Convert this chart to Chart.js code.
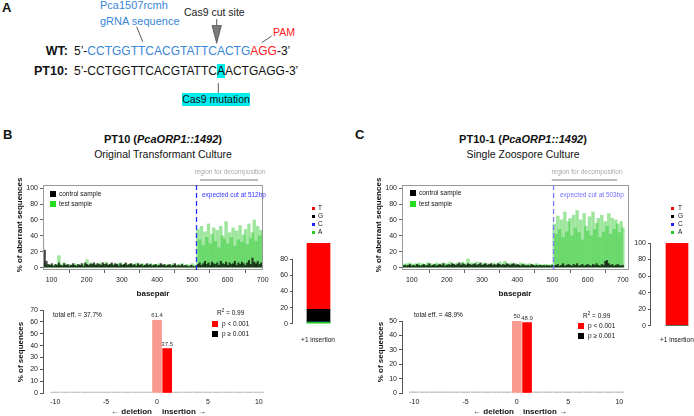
<!DOCTYPE html>
<html><head><meta charset="utf-8">
<script src="https://cdn.jsdelivr.net/npm/chart.js@4"></script>
<style>
html,body{margin:0;padding:0;width:694px;height:416px;overflow:hidden;background:#fff;font-family:"Liberation Sans",Arial,sans-serif;color:#111;}
.t{position:absolute;white-space:nowrap;line-height:1;}
canvas{position:absolute;}
.sq{position:absolute;}
.rot{position:absolute;width:140px;height:10px;line-height:10px;text-align:center;font-weight:bold;font-size:8px;transform:rotate(-90deg);white-space:nowrap;}
.s65{font-size:6.5px;}
</style></head><body>

<!-- Panel A -->
<div class="t" style="left:2px;top:1px;font-size:13px;font-weight:bold">A</div>
<div class="t" style="left:100px;top:0px;font-size:11px;color:#3a86d8">Pca1507rcmh</div>
<div class="t" style="left:100px;top:16px;font-size:11px;color:#3a86d8">gRNA sequence</div>
<div class="t" style="left:184px;top:7px;font-size:10.5px;color:#222">Cas9 cut site</div>
<div class="t" style="left:273px;top:27px;font-size:10.5px;color:#ff2020">PAM</div>
<div class="t" style="left:8px;width:60px;text-align:right;top:45px;font-size:12.5px;font-weight:bold">WT:</div>
<div class="t" style="left:74px;top:45px;font-size:12px">5’-<span style="color:#3a86d8">CCTGGTTCACGTATTCACTG</span><span style="color:#ff2020">AGG</span>-3’</div>
<div class="t" style="left:8px;width:60px;text-align:right;top:65px;font-size:12.5px;font-weight:bold">PT10:</div>
<div class="t" style="left:74px;top:65px;font-size:12px">5’-CCTGGTTCACGTATTC<span style="background:#00eeee">A</span>ACTGAGG-3’</div>
<div class="t" style="left:182px;top:93px;width:68px;height:13px;line-height:13px;text-align:center;background:#00eeee;font-size:10.5px">Cas9 mutation</div>
<svg style="position:absolute;left:0;top:0" width="320" height="110">
 <line x1="136.7" y1="26.7" x2="142.7" y2="41.7" stroke="#333" stroke-width="0.8"/>
 <line x1="216.7" y1="19" x2="216.7" y2="25.5" stroke="#333" stroke-width="0.8"/>
 <polygon points="212,25.5 221.4,25.5 216.7,43.3" fill="#7a7a7a" stroke="#333" stroke-width="0.6"/>
 <line x1="271.7" y1="36" x2="261.7" y2="42.7" stroke="#333" stroke-width="0.8"/>
 <line x1="218.3" y1="83" x2="218.3" y2="93" stroke="#333" stroke-width="0.8"/>
</svg>

<!-- Panel labels and titles -->
<div class="t" style="left:3px;top:128px;font-size:13px;font-weight:bold">B</div>
<div class="t" style="left:355px;top:128px;font-size:13px;font-weight:bold">C</div>
<div class="t" style="left:63px;width:200px;text-align:center;top:134px;font-size:11px;font-weight:bold">PT10 (<i>PcaORP1::1492</i>)</div>
<div class="t" style="left:63px;width:200px;text-align:center;top:149px;font-size:10.5px">Original Transformant Culture</div>
<div class="t" style="left:423px;width:200px;text-align:center;top:134px;font-size:11px;font-weight:bold">PT10-1 (<i>PcaORP1::1492</i>)</div>
<div class="t" style="left:423px;width:200px;text-align:center;top:149px;font-size:10.5px">Single Zoospore Culture</div>

<!-- canvases -->
<canvas id="bTop"></canvas>
<canvas id="cTop"></canvas>
<canvas id="bStack"></canvas>
<canvas id="cStack"></canvas>
<canvas id="bBot"></canvas>
<canvas id="cBot"></canvas>

<!-- B top annotations -->
<div class="rot" style="left:-50px;top:220px">% of aberrant sequences</div>
<div class="t" style="left:103px;width:100px;text-align:center;top:290px;font-size:8px;font-weight:bold">basepair</div>
<div class="sq" style="left:50px;top:191px;width:6px;height:6px;background:#000"></div>
<div class="sq" style="left:50px;top:201px;width:6px;height:6px;background:#22dd22"></div>
<div class="t s65" style="left:59px;top:190.5px">control sample</div>
<div class="t s65" style="left:59px;top:200.5px">test sample</div>
<div class="t s65" style="left:202px;top:191.5px;color:#3535ff">expected cut at 512bp</div>
<div class="t s65" style="left:180px;width:100px;text-align:center;top:168.5px;color:#aaa">region for decomposition</div>

<!-- C top annotations -->
<div class="rot" style="left:309px;top:220px">% of aberrant sequences</div>
<div class="t" style="left:465px;width:100px;text-align:center;top:290px;font-size:8px;font-weight:bold">basepair</div>
<div class="sq" style="left:410px;top:190px;width:6px;height:6px;background:#000"></div>
<div class="sq" style="left:410px;top:201px;width:6px;height:6px;background:#22dd22"></div>
<div class="t s65" style="left:419px;top:189.5px">control sample</div>
<div class="t s65" style="left:419px;top:200.5px">test sample</div>
<div class="t s65" style="left:560px;top:191.5px;color:#7070ff">expected cut at 503bp</div>
<div class="t s65" style="left:537px;width:100px;text-align:center;top:168.5px;color:#aaa">region for decomposition</div>

<!-- stacked legends -->
<div class="sq" style="left:312px;top:207px;width:3px;height:3px;background:#f00"></div>
<div class="sq" style="left:312px;top:215px;width:3px;height:3px;background:#000"></div>
<div class="sq" style="left:312px;top:223px;width:3px;height:3px;background:#2222ff"></div>
<div class="sq" style="left:312px;top:231px;width:3px;height:3px;background:#22cc22"></div>
<div class="t s65" style="left:318px;top:204.5px">T</div>
<div class="t s65" style="left:318px;top:212.5px">G</div>
<div class="t s65" style="left:318px;top:220.5px">C</div>
<div class="t s65" style="left:318px;top:228.5px">A</div>
<div class="t s65" style="left:268px;width:100px;text-align:center;top:337px">+1 insertion</div>

<div class="sq" style="left:671px;top:207px;width:3px;height:3px;background:#f00"></div>
<div class="sq" style="left:671px;top:215px;width:3px;height:3px;background:#000"></div>
<div class="sq" style="left:671px;top:223px;width:3px;height:3px;background:#2222ff"></div>
<div class="sq" style="left:671px;top:231px;width:3px;height:3px;background:#22cc22"></div>
<div class="t s65" style="left:678px;top:204.5px">T</div>
<div class="t s65" style="left:678px;top:212.5px">G</div>
<div class="t s65" style="left:678px;top:220.5px">C</div>
<div class="t s65" style="left:678px;top:228.5px">A</div>
<div class="t s65" style="left:660px;top:337px">+1 insertion</div>

<!-- B bottom annotations -->
<div class="rot" style="left:-49px;top:347px">% of sequences</div>
<div class="t s65" style="left:53px;top:311.5px">total eff. = 37.7%</div>
<div class="t s65" style="left:217px;top:308.5px">R<sup style="font-size:4.5px;vertical-align:3px">2</sup> = 0.99</div>
<div class="sq" style="left:212px;top:321px;width:6px;height:6px;background:#f00"></div>
<div class="sq" style="left:212px;top:331px;width:6px;height:6px;background:#000"></div>
<div class="t s65" style="left:222px;top:320.5px">p &lt; 0.001</div>
<div class="t s65" style="left:222px;top:330.5px">p ≥ 0.001</div>
<div class="t" style="left:52px;width:100px;text-align:right;top:408px;font-size:8px;font-weight:bold">← deletion</div>
<div class="t" style="left:162px;top:408px;font-size:8px;font-weight:bold">insertion →</div>

<!-- C bottom annotations -->
<div class="rot" style="left:311px;top:347px">% of sequences</div>
<div class="t s65" style="left:414px;top:311.5px">total eff. = 48.9%</div>
<div class="t s65" style="left:583px;top:311.5px">R<sup style="font-size:4.5px;vertical-align:3px">2</sup> = 0.99</div>
<div class="sq" style="left:578px;top:323px;width:6px;height:6px;background:#f00"></div>
<div class="sq" style="left:578px;top:333px;width:6px;height:6px;background:#000"></div>
<div class="t s65" style="left:588px;top:322.5px">p &lt; 0.001</div>
<div class="t s65" style="left:588px;top:332.5px">p ≥ 0.001</div>
<div class="t" style="left:414px;width:100px;text-align:right;top:408px;font-size:8px;font-weight:bold">← deletion</div>
<div class="t" style="left:523px;top:408px;font-size:8px;font-weight:bold">insertion →</div>

<script>
// ---------------- DATA ----------------
// basepair positions: B starts at 76, C at 75, one value every 5 bp
const bpStartB = 76, bpStartC = 75, bpStep = 5;
const cutB = 512, cutC = 503;
const regionB = [522, 687], regionC = [498, 684];
const xTicksTop = [100, 200, 300, 400, 500, 600, 700];
const yTicksTop = [0, 20, 40, 60, 80, 100];

const controlB = [35,22,8,4,3,5,2,4,3,6, 3,2,5,3,4,2,3,5,3,2, 4,3,5,2,6,4,3,5,4,6, 3,5,4,3,6,4,5,3,4,6,
  3,5,4,2,5,3,4,6,3,4, 5,3,4,2,5,3,4,2,3,5, 3,4,2,3,4,2,3,5,3,4, 2,3,4,2,3,5,2,3,2,4, 2,3,2,1,3,2,1,2,
  4,6,3,5,8,4,6,3,7,5, 4,6,3,8,5,4,7,3,6,4, 5,8,3,6,4,7,5,3,6,9, 4,12,7,5,8,4,6,5];
const testB = [8,5,3,2,4,3,2,3,4,15, 4,3,6,3,2,4,3,2,5,3, 4,3,2,5,4,10,3,4,6,3, 4,5,3,6,4,3,7,4,3,5,
  4,3,5,4,6,3,4,5,3,4, 5,4,3,6,4,3,5,4,3,4, 3,5,4,3,4,3,5,2,4,3, 3,4,2,3,5,3,2,4,3,5, 2,3,4,2,3,5,2,3,
  48,35,52,28,45,38,55,30,42,50, 33,47,25,52,40,36,58,30,44,38, 50,27,46,35,53,32,41,48,29,55, 37,44,60,33,52,40,47,45];
const controlC = [2,3,2,3,4,2,3,2,4,3, 2,3,4,2,3,5,2,3,4,2, 3,4,3,5,2,3,4,3,5,4, 3,4,6,3,5,4,3,5,4,3,
  4,5,3,4,6,3,4,5,3,4, 5,3,4,3,5,4,3,4,3,5, 4,3,4,5,3,4,3,2,4,3, 2,3,2,4,3,2,3,2,3,2, 3,2,3,2,2,3,
  2,3,4,2,3,5,2,3,4,3, 2,4,3,5,2,3,4,2,3,4, 3,2,4,3,5,3,2,4,3,8, 9,5,3,4,2,3,4,3,2,3];
const testC = [3,4,5,3,6,4,3,5,4,6, 3,5,4,3,6,4,5,3,4,6, 4,5,3,6,4,5,3,7,4,5, 3,6,4,5,7,3,5,11,4,6,
  5,3,7,4,5,3,6,4,5,3, 4,6,3,5,4,7,3,5,8,4, 5,3,6,4,5,3,4,6,3,5, 4,3,5,3,4,3,5,3,4,3, 3,4,3,3,4,3,
  55,42,65,48,60,38,70,45,58,62, 40,66,50,72,44,60,35,68,52,46, 64,40,70,48,56,62,38,66,45,58, 52,68,42,62,48,60,55,44,58,50];

// indel spectrum (-10 .. +10)
const indelPos = [-10,-9,-8,-7,-6,-5,-4,-3,-2,-1,0,1,2,3,4,5,6,7,8,9,10];
const indelB = [0.8,0.8,0.8,0.8,0.8,0.8,0.8,0.8,0.8,0.8,61.4,37.5,0.8,0.8,0.9,0.8,0.8,0.8,0.8,0.8,0.8];
const indelC = [0.8,0.8,0.8,0.8,0.8,0.8,0.8,0.8,0.8,0.8,50,48.9,0.8,0.8,0.8,0.8,0.8,0.8,0.8,0.8,0.8];
const yTicksBotB = [0,10,20,30,40,50,60,70];
const yTicksBotC = [0,10,20,30,40,50];
const xTicksBot = [-10,-5,0,5,10];

// +1 insertion base composition
const insLabel = ['+1 insertion'];
const bases = ['A','C','G','T'];
const baseColors = ['#22cc22','#2222ff','#000000','#ff0000'];
const baseB = [2,0,16,82];
const baseC = [0,0,0,100];
const yTicksStackB = [0,20,40,60,80];
const yTicksStackC = [0,20,40,60,80,100];

// ---------------- HELPERS ----------------
Chart.defaults.font.family = "'Liberation Sans', Arial, sans-serif";
Chart.defaults.font.size = 7;
Chart.defaults.color = '#222';

function place(id, area, yW, xH, padT, padR) {
  const c = document.getElementById(id);
  const L = area.x0 - yW, T = area.y0 - padT;
  const W = yW + (area.x1 - area.x0) + padR, H = padT + (area.y1 - area.y0) + xH;
  c.style.left = L + 'px'; c.style.top = T + 'px';
  c.width = W; c.height = H; c.style.width = W + 'px'; c.style.height = H + 'px';
  return c;
}
const fixTicks = arr => s => { s.ticks = arr.map(v => ({value: v})); };

const annot = {
  id: 'annot',
  afterDatasetsDraw(chart, args, o) {
    const ctx = chart.ctx, a = chart.chartArea, xs = chart.scales.x, ys = chart.scales.y;
    ctx.save();
    if (o.box) {
      ctx.strokeStyle = '#9a9a9a'; ctx.lineWidth = 1;
      ctx.strokeRect(Math.round(a.left) + 0.5, Math.round(a.top) + 0.5, Math.round(a.right - a.left) - 1, Math.round(a.bottom - a.top) - 1);
    }
    if (o.cut !== undefined) {
      const x = xs.getPixelForValue(o.cut);
      ctx.strokeStyle = o.cutColor; ctx.lineWidth = 1.3; ctx.setLineDash([5, 3]);
      ctx.beginPath(); ctx.moveTo(x, a.top); ctx.lineTo(x, a.bottom + 3); ctx.stroke();
      ctx.setLineDash([]);
    }
    if (o.region) {
      ctx.strokeStyle = '#bdbdbd'; ctx.lineWidth = 2;
      ctx.beginPath(); ctx.moveTo(xs.getPixelForValue(o.region[0]), a.top - 5);
      ctx.lineTo(xs.getPixelForValue(o.region[1]), a.top - 5); ctx.stroke();
    }
    if (o.yAxisLine) {
      const t = ys.ticks;
      ctx.strokeStyle = '#555'; ctx.lineWidth = 1;
      const x = Math.round(a.left) - 0.5;
      ctx.beginPath(); ctx.moveTo(x, ys.getPixelForValue(t[0].value)); ctx.lineTo(x, ys.getPixelForValue(t[t.length - 1].value)); ctx.stroke();
    }
    if (o.barLabels) {
      const ds = chart.data.datasets[0];
      const meta = chart.getDatasetMeta(0);
      ctx.fillStyle = '#333'; ctx.font = "6px 'Liberation Sans', Arial"; ctx.textAlign = 'center'; ctx.textBaseline = 'bottom';
      ds.data.forEach((d, i) => {
        if (d.y > 5) { const el = meta.data[i]; ctx.fillText(String(d.y), el.x, el.y - 1.5); }
      });
    }
    ctx.restore();
  }
};

function topChart(id, area, xmin, xmax, start, ctrl, test, cut, cutColor, region) {
  const yW = 30, xH = 20, padT = 10, padR = 10;
  const c = place(id, area, yW, xH, padT, padR);
  new Chart(c, {
    type: 'bar',
    data: {
      datasets: [
        { label: 'control sample', data: ctrl.map((v, i) => ({x: start + bpStep * i, y: v})),
          backgroundColor: 'rgba(0,0,0,0.72)', barThickness: 1.4, grouped: false },
        { label: 'test sample', data: test.map((v, i) => ({x: start + bpStep * i, y: v})),
          backgroundColor: 'rgba(40,200,40,0.45)', barThickness: 2.8, grouped: false }
      ]
    },
    options: {
      responsive: false, animation: false, events: [],
      layout: {padding: {top: padT, right: padR, left: 0, bottom: 0}},
      plugins: {legend: {display: false}, tooltip: {enabled: false},
        annot: {box: true, cut: cut, cutColor: cutColor, region: region}},
      scales: {
        x: {type: 'linear', min: xmin, max: xmax, offset: false, afterBuildTicks: fixTicks(xTicksTop),
          ticks: {autoSkip: false, maxRotation: 0, padding: 3, font: {size: 7}},
          grid: {drawOnChartArea: false, tickLength: 3, color: '#666'}, border: {display: false},
          afterFit: s => { s.height = xH; }},
        y: {type: 'linear', min: -3, max: 104, afterBuildTicks: fixTicks(yTicksTop),
          ticks: {padding: 2, font: {size: 7}},
          grid: {drawOnChartArea: false, tickLength: 3, color: '#666'}, border: {display: false},
          afterFit: s => { s.width = yW; }}
      }
    },
    plugins: [annot]
  });
}

function stackChart(id, area, vals, yTicks, thick) {
  const yW = 20, xH = 1, padT = 10, padR = 0;
  const c = place(id, area, yW, xH, padT, padR);
  new Chart(c, {
    type: 'bar',
    data: {labels: insLabel, datasets: bases.map((b, i) => ({label: b, data: [vals[i]], backgroundColor: baseColors[i], barThickness: thick}))},
    options: {
      responsive: false, animation: false, events: [],
      layout: {padding: {top: padT, right: padR, left: 0, bottom: 0}},
      plugins: {legend: {display: false}, tooltip: {enabled: false}, annot: {yAxisLine: true}},
      scales: {
        x: {stacked: true, ticks: {display: false}, grid: {display: false}, border: {display: false},
          afterFit: s => { s.height = xH; }},
        y: {stacked: true, min: 0, max: 100, afterBuildTicks: fixTicks(yTicks),
          ticks: {padding: 2, font: {size: 7}},
          grid: {drawOnChartArea: false, tickLength: 3, color: '#555'}, border: {display: false},
          afterFit: s => { s.width = yW; }}
      }
    },
    plugins: [annot]
  });
}

function botChart(id, area, xmin, xmax, ymax, vals, yTicks) {
  const yW = 30, xH = 18, padT = 10, padR = 10;
  const c = place(id, area, yW, xH, padT, padR);
  const colors = indelPos.map((p, i) => p === 0 ? '#f99a8f' : (vals[i] > 5 ? '#ff0000' : '#bdbdbd'));
  new Chart(c, {
    type: 'bar',
    data: {datasets: [{label: 'indel', data: indelPos.map((p, i) => ({x: p, y: vals[i]})),
      backgroundColor: colors, barThickness: 9, grouped: false}]},
    options: {
      responsive: false, animation: false, events: [],
      layout: {padding: {top: padT, right: padR, left: 0, bottom: 0}},
      plugins: {legend: {display: false}, tooltip: {enabled: false}, annot: {barLabels: true}},
      scales: {
        x: {type: 'linear', min: xmin, max: xmax, offset: false, afterBuildTicks: fixTicks(xTicksBot),
          ticks: {display: true, autoSkip: false, maxRotation: 0, padding: 3, font: {size: 7}, color: '#222'},
          grid: {display: true, drawOnChartArea: false, drawTicks: true, tickLength: 2, color: 'rgba(0,0,0,0)'},
          border: {display: false},
          afterFit: s => { s.height = xH; }},
        y: {min: 0, max: ymax, afterBuildTicks: fixTicks(yTicks),
          ticks: {padding: 2, font: {size: 7}},
          grid: {drawOnChartArea: false, tickLength: 3, color: '#555'}, border: {display: true, color: '#555'},
          afterFit: s => { s.width = yW; }}
      }
    },
    plugins: [annot]
  });
}

topChart('bTop', {x0: 43, x1: 263, y0: 185, y1: 270}, 75.9, 700.9, bpStartB, controlB, testB, cutB, '#2230ff', regionB);
topChart('cTop', {x0: 402, x1: 629, y0: 185, y1: 270}, 72.4, 717.3, bpStartC, controlC, testC, cutC, '#7b7bff', regionC);
stackChart('bStack', {x0: 293, x1: 344, y0: 243, y1: 329}, baseB, yTicksStackB, 23);
stackChart('cStack', {x0: 651, x1: 703, y0: 243, y1: 331}, baseC, yTicksStackC, 22);
botChart('bBot', {x0: 43, x1: 270, y0: 310, y1: 393}, -11.2, 11.1, 70, indelB, yTicksBotB);
botChart('cBot', {x0: 402, x1: 630, y0: 321, y1: 393}, -11.2, 11.04, 50, indelC, yTicksBotC);
</script>
</body></html>
